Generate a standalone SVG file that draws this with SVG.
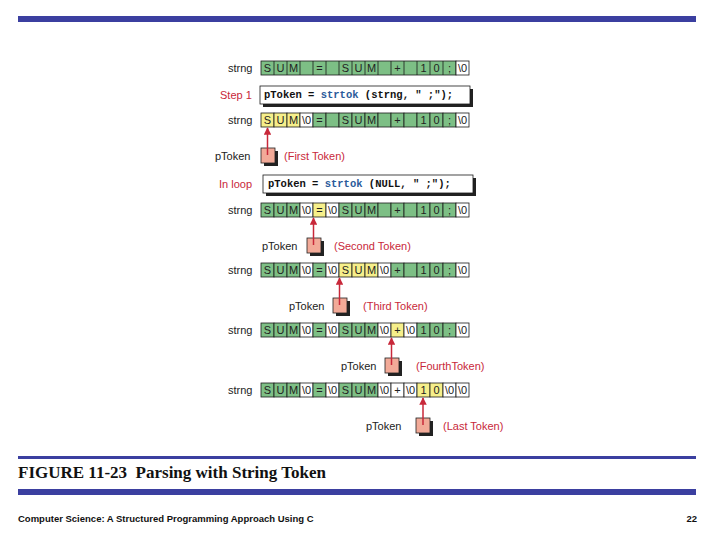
<svg xmlns="http://www.w3.org/2000/svg" width="720" height="540" viewBox="0 0 720 540">
<defs>
<style>
.g{fill:#7dbf85;stroke:#1a1a1a;stroke-width:0.8}
.y{fill:#f6ef8a;stroke:#1a1a1a;stroke-width:0.8}
.w{fill:#fff;stroke:#1a1a1a;stroke-width:0.8}
.c{font-family:"Liberation Sans",Arial,sans-serif;font-size:11px;text-anchor:middle;fill:#222}
.l{font-family:"Liberation Sans",Arial,sans-serif;font-size:11px;fill:#222}
.r{font-family:"Liberation Sans",Arial,sans-serif;font-size:11px;fill:#c8283a}
.code{font-family:"Liberation Mono",monospace;font-size:10.5px;font-weight:bold;fill:#111}
.kw{fill:#2a5a9a}
.pb{fill:#f2aa98;stroke:#222;stroke-width:0.8}
.sh{fill:#222}
.ar{stroke:#c8283a;stroke-width:1.5;fill:none}
</style>
<marker id="ah" viewBox="0 0 10 10" refX="9" refY="5" markerWidth="5" markerHeight="5" orient="auto"><path d="M0,0L10,5L0,10z" fill="#c8283a"/></marker>
</defs>
<rect x="18" y="16" width="678" height="6" fill="#3b3fa0"/>
<rect x="18" y="456" width="678" height="3" fill="#3b3fa0"/>
<rect x="18" y="489" width="678" height="6" fill="#3b3fa0"/>
<text x="18" y="478" font-family="Liberation Serif,serif" font-size="17" font-weight="bold" fill="#111">FIGURE 11-23&#160; Parsing with String Token</text>
<text x="18" y="522" font-family="Liberation Sans,Arial,sans-serif" font-size="9.5" font-weight="bold" fill="#111">Computer Science: A Structured Programming Approach Using C</text>
<text x="697" y="522" font-family="Liberation Sans,Arial,sans-serif" font-size="9.5" font-weight="bold" fill="#111" text-anchor="end">22</text>

<g id="row0">
<text class="l" x="228" y="72">strng</text>
<rect class="g" x="261" y="61" width="195" height="14"/><rect class="w" x="456" y="61" width="13" height="14"/>
<path d="M274,61v14M287,61v14M300,61v14M313,61v14M326,61v14M339,61v14M352,61v14M365,61v14M378,61v14M391,61v14M404,61v14M417,61v14M430,61v14M443,61v14" stroke="#1a1a1a" stroke-width="0.8"/>
<g class="c"><text x="267.5" y="72">S</text><text x="280.5" y="72">U</text><text x="293.5" y="72">M</text><text x="319.5" y="72">=</text><text x="345.5" y="72">S</text><text x="358.5" y="72">U</text><text x="371.5" y="72">M</text><text x="397.5" y="72">+</text><text x="423.5" y="72">1</text><text x="436.5" y="72">0</text><text x="449.5" y="72">;</text><text x="462.5" y="72">\0</text></g>
</g>

<g id="step1">
<text class="r" x="220" y="99">Step 1</text>
<rect class="sh" x="263" y="89" width="210" height="18"/>
<rect class="w" x="260" y="86" width="210" height="18" stroke-width="1"/>
<text class="code" x="264" y="98">pToken = <tspan class="kw">strtok</tspan> (strng, " ;");</text>
</g>

<g id="row2">
<text class="l" x="228" y="124">strng</text>
<rect class="y" x="261" y="113" width="13" height="14"/><rect class="y" x="274" y="113" width="13" height="14"/><rect class="y" x="287" y="113" width="13" height="14"/><rect class="w" x="300" y="113" width="13" height="14"/>
<rect class="g" x="313" y="113" width="13" height="14"/><rect class="g" x="326" y="113" width="13" height="14"/><rect class="g" x="339" y="113" width="13" height="14"/><rect class="g" x="352" y="113" width="13" height="14"/><rect class="g" x="365" y="113" width="13" height="14"/><rect class="g" x="378" y="113" width="13" height="14"/><rect class="g" x="391" y="113" width="13" height="14"/><rect class="g" x="404" y="113" width="13" height="14"/><rect class="g" x="417" y="113" width="13" height="14"/><rect class="g" x="430" y="113" width="13" height="14"/><rect class="g" x="443" y="113" width="13" height="14"/><rect class="w" x="456" y="113" width="13" height="14"/>
<g class="c"><text x="267.5" y="124">S</text><text x="280.5" y="124">U</text><text x="293.5" y="124">M</text><text x="306.5" y="124">\0</text><text x="319.5" y="124">=</text><text x="345.5" y="124">S</text><text x="358.5" y="124">U</text><text x="371.5" y="124">M</text><text x="397.5" y="124">+</text><text x="423.5" y="124">1</text><text x="436.5" y="124">0</text><text x="449.5" y="124">;</text><text x="462.5" y="124">\0</text></g>
</g>

<g id="ptr1">
<text class="l" x="215" y="160">pToken</text>
<rect class="sh" x="264" y="151" width="14" height="15"/><rect class="pb" x="261" y="148" width="14" height="15"/>
<text class="r" x="284" y="160">(First Token)</text>
</g>

<g id="inloop">
<text class="r" x="219" y="188">In loop</text>
<rect class="sh" x="266" y="178" width="210" height="18"/>
<rect class="w" x="263" y="175" width="210" height="18" stroke-width="1"/>
<text class="code" x="268" y="187">pToken = <tspan class="kw">strtok</tspan> (NULL, " ;");</text>
</g>

<g id="row3">
<text class="l" x="228" y="214">strng</text>
<rect class="g" x="261" y="203" width="13" height="14"/><rect class="g" x="274" y="203" width="13" height="14"/><rect class="g" x="287" y="203" width="13" height="14"/><rect class="w" x="300" y="203" width="13" height="14"/><rect class="y" x="313" y="203" width="13" height="14"/><rect class="w" x="326" y="203" width="13" height="14"/>
<rect class="g" x="339" y="203" width="13" height="14"/><rect class="g" x="352" y="203" width="13" height="14"/><rect class="g" x="365" y="203" width="13" height="14"/><rect class="g" x="378" y="203" width="13" height="14"/><rect class="g" x="391" y="203" width="13" height="14"/><rect class="g" x="404" y="203" width="13" height="14"/><rect class="g" x="417" y="203" width="13" height="14"/><rect class="g" x="430" y="203" width="13" height="14"/><rect class="g" x="443" y="203" width="13" height="14"/><rect class="w" x="456" y="203" width="13" height="14"/>
<g class="c"><text x="267.5" y="214">S</text><text x="280.5" y="214">U</text><text x="293.5" y="214">M</text><text x="306.5" y="214">\0</text><text x="319.5" y="214">=</text><text x="332.5" y="214">\0</text><text x="345.5" y="214">S</text><text x="358.5" y="214">U</text><text x="371.5" y="214">M</text><text x="397.5" y="214">+</text><text x="423.5" y="214">1</text><text x="436.5" y="214">0</text><text x="449.5" y="214">;</text><text x="462.5" y="214">\0</text></g>
</g>

<g id="ptr2">
<text class="l" x="262" y="250">pToken</text>
<rect class="sh" x="310" y="241" width="14" height="15"/><rect class="pb" x="307" y="238" width="14" height="15"/>
<text class="r" x="334" y="250">(Second Token)</text>
</g>

<g id="row4">
<text class="l" x="228" y="274">strng</text>
<rect class="g" x="261" y="263" width="13" height="14"/><rect class="g" x="274" y="263" width="13" height="14"/><rect class="g" x="287" y="263" width="13" height="14"/><rect class="w" x="300" y="263" width="13" height="14"/><rect class="g" x="313" y="263" width="13" height="14"/><rect class="w" x="326" y="263" width="13" height="14"/>
<rect class="y" x="339" y="263" width="13" height="14"/><rect class="y" x="352" y="263" width="13" height="14"/><rect class="y" x="365" y="263" width="13" height="14"/><rect class="w" x="378" y="263" width="13" height="14"/><rect class="g" x="391" y="263" width="13" height="14"/><rect class="g" x="404" y="263" width="13" height="14"/><rect class="g" x="417" y="263" width="13" height="14"/><rect class="g" x="430" y="263" width="13" height="14"/><rect class="g" x="443" y="263" width="13" height="14"/><rect class="w" x="456" y="263" width="13" height="14"/>
<g class="c"><text x="267.5" y="274">S</text><text x="280.5" y="274">U</text><text x="293.5" y="274">M</text><text x="306.5" y="274">\0</text><text x="319.5" y="274">=</text><text x="332.5" y="274">\0</text><text x="345.5" y="274">S</text><text x="358.5" y="274">U</text><text x="371.5" y="274">M</text><text x="384.5" y="274">\0</text><text x="397.5" y="274">+</text><text x="423.5" y="274">1</text><text x="436.5" y="274">0</text><text x="449.5" y="274">;</text><text x="462.5" y="274">\0</text></g>
</g>

<g id="ptr3">
<text class="l" x="289" y="310">pToken</text>
<rect class="sh" x="336" y="301" width="14" height="15"/><rect class="pb" x="333" y="298" width="14" height="15"/>
<text class="r" x="363" y="310">(Third Token)</text>
</g>

<g id="row5">
<text class="l" x="228" y="334">strng</text>
<rect class="g" x="261" y="323" width="13" height="14"/><rect class="g" x="274" y="323" width="13" height="14"/><rect class="g" x="287" y="323" width="13" height="14"/><rect class="w" x="300" y="323" width="13" height="14"/><rect class="g" x="313" y="323" width="13" height="14"/><rect class="w" x="326" y="323" width="13" height="14"/>
<rect class="g" x="339" y="323" width="13" height="14"/><rect class="g" x="352" y="323" width="13" height="14"/><rect class="g" x="365" y="323" width="13" height="14"/><rect class="w" x="378" y="323" width="13" height="14"/><rect class="y" x="391" y="323" width="13" height="14"/><rect class="w" x="404" y="323" width="13" height="14"/><rect class="g" x="417" y="323" width="13" height="14"/><rect class="g" x="430" y="323" width="13" height="14"/><rect class="g" x="443" y="323" width="13" height="14"/><rect class="w" x="456" y="323" width="13" height="14"/>
<g class="c"><text x="267.5" y="334">S</text><text x="280.5" y="334">U</text><text x="293.5" y="334">M</text><text x="306.5" y="334">\0</text><text x="319.5" y="334">=</text><text x="332.5" y="334">\0</text><text x="345.5" y="334">S</text><text x="358.5" y="334">U</text><text x="371.5" y="334">M</text><text x="384.5" y="334">\0</text><text x="397.5" y="334">+</text><text x="410.5" y="334">\0</text><text x="423.5" y="334">1</text><text x="436.5" y="334">0</text><text x="449.5" y="334">;</text><text x="462.5" y="334">\0</text></g>
</g>

<g id="ptr4">
<text class="l" x="341" y="370">pToken</text>
<rect class="sh" x="388" y="361" width="14" height="15"/><rect class="pb" x="385" y="358" width="14" height="15"/>
<text class="r" x="416" y="370">(FourthToken)</text>
</g>

<g id="row6">
<text class="l" x="228" y="394">strng</text>
<rect class="g" x="261" y="383" width="13" height="14"/><rect class="g" x="274" y="383" width="13" height="14"/><rect class="g" x="287" y="383" width="13" height="14"/><rect class="w" x="300" y="383" width="13" height="14"/><rect class="g" x="313" y="383" width="13" height="14"/><rect class="w" x="326" y="383" width="13" height="14"/>
<rect class="g" x="339" y="383" width="13" height="14"/><rect class="g" x="352" y="383" width="13" height="14"/><rect class="g" x="365" y="383" width="13" height="14"/><rect class="w" x="378" y="383" width="13" height="14"/><rect class="w" x="391" y="383" width="13" height="14"/><rect class="w" x="404" y="383" width="13" height="14"/><rect class="y" x="417" y="383" width="13" height="14"/><rect class="y" x="430" y="383" width="13" height="14"/><rect class="w" x="443" y="383" width="13" height="14"/><rect class="w" x="456" y="383" width="13" height="14"/>
<g class="c"><text x="267.5" y="394">S</text><text x="280.5" y="394">U</text><text x="293.5" y="394">M</text><text x="306.5" y="394">\0</text><text x="319.5" y="394">=</text><text x="332.5" y="394">\0</text><text x="345.5" y="394">S</text><text x="358.5" y="394">U</text><text x="371.5" y="394">M</text><text x="384.5" y="394">\0</text><text x="397.5" y="394">+</text><text x="410.5" y="394">\0</text><text x="423.5" y="394">1</text><text x="436.5" y="394">0</text><text x="449.5" y="394">\0</text><text x="462.5" y="394">\0</text></g>
</g>

<g id="ptr5">
<text class="l" x="366" y="430">pToken</text>
<rect class="sh" x="419" y="421" width="14" height="15"/><rect class="pb" x="416" y="418" width="14" height="15"/>
<text class="r" x="443" y="430">(Last Token)</text>
</g>

<g id="connectors">
<path class="ar" d="M267.5,155V128" marker-end="url(#ah)"/>
<path class="ar" d="M313.5,245V218" marker-end="url(#ah)"/>
<path class="ar" d="M339.5,305V278" marker-end="url(#ah)"/>
<path class="ar" d="M391.5,365V338" marker-end="url(#ah)"/>
<path class="ar" d="M423,425V398" marker-end="url(#ah)"/>
</g>
</svg>
